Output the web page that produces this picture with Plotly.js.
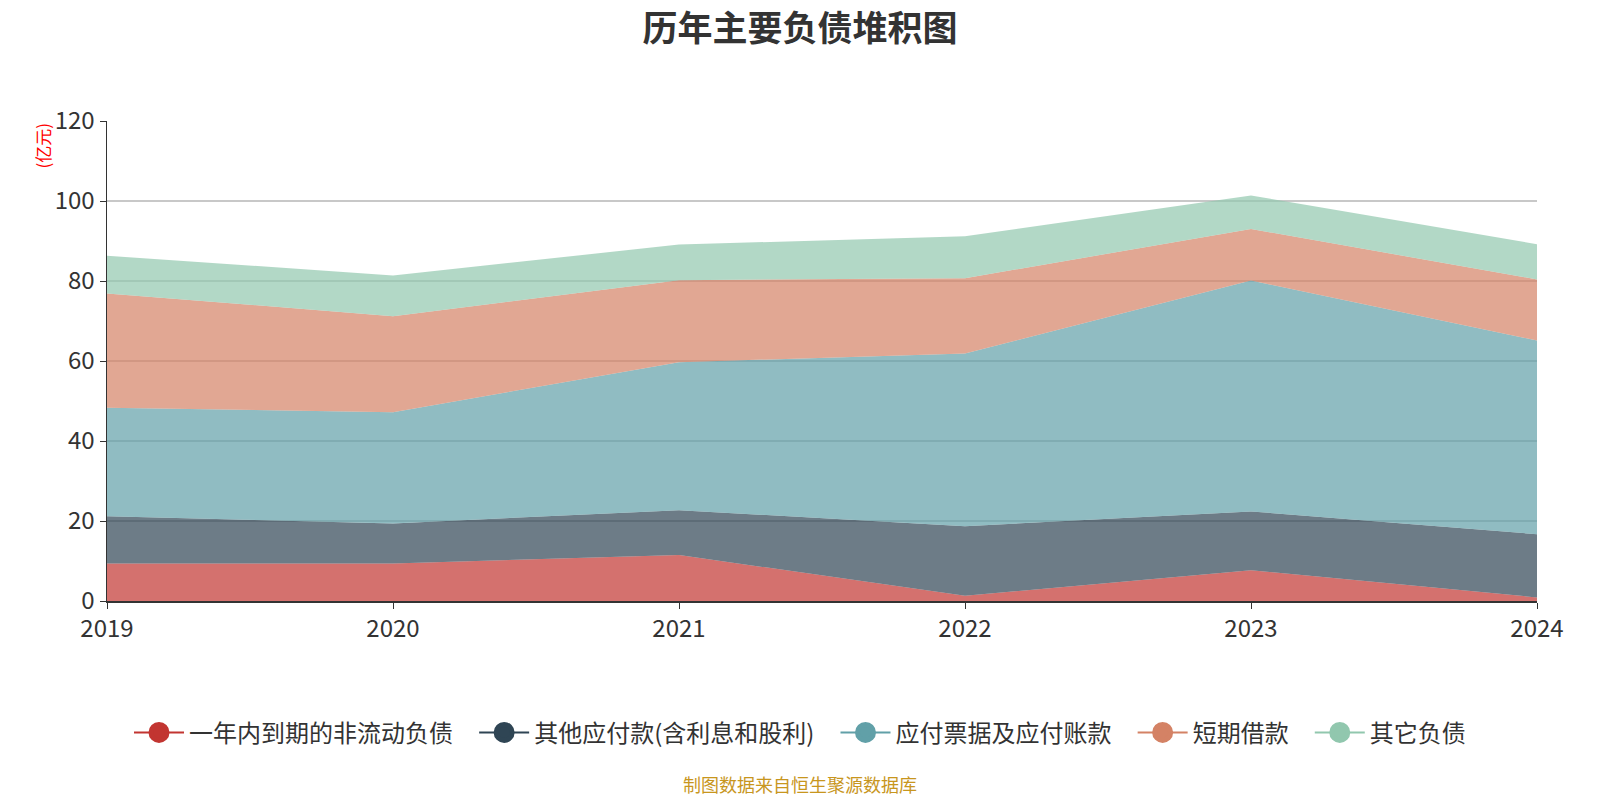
<!DOCTYPE html>
<html><head><meta charset="utf-8">
<script src="https://cdn.plot.ly/plotly-3.0.1.min.js"></script>
<style>html,body{margin:0;padding:0;background:#fff}#c{width:1600px;height:800px}</style>
</head><body><div id="c"></div>
<script>
const years = ['2019','2020','2021','2022','2023','2024'];
const names = ['一年内到期的非流动负债','其他应付款(含利息和股利)','应付票据及应付账款','短期借款','其它负债'];
const s1 = [9.4, 9.4, 11.5, 1.3, 7.7, 0.9];
const s2 = [11.8, 10.0, 11.2, 17.4, 14.7, 15.8];
const s3 = [27.1, 27.8, 37.0, 43.2, 57.7, 48.4];
const s4 = [28.6, 24.0, 20.5, 18.8, 12.9, 15.3];
const s5 = [9.4, 10.2, 8.9, 10.5, 8.4, 8.8];
const yTicks = [0, 20, 40, 60, 80, 100, 120];
const colors = [[194,53,49],[47,69,84],[97,160,168],[212,130,101],[145,199,174]];
const series = [s1, s2, s3, s4, s5];
const font = '"Noto Sans CJK SC", "Noto Sans", sans-serif';

const traces = [];
series.forEach((s, i) => {
  const c = colors[i];
  traces.push({
    x: years, y: s, type: 'scatter', mode: 'lines', stackgroup: 'one',
    name: names[i], showlegend: false,
    line: {width: 0, color: `rgb(${c.join(',')})`},
    fillcolor: `rgba(${c.join(',')},0.7)`,
    hoverinfo: 'x+y+name'
  });
});
series.forEach((s, i) => {
  const c = colors[i];
  const col = `rgb(${c.join(',')})`;
  traces.push({
    x: [null], y: [null], type: 'scatter', mode: 'lines+markers',
    name: names[i] + (i < series.length - 1 ? '\u00a0\u00a0\u00a0' : ''), showlegend: true,
    line: {width: 2, color: col},
    marker: {size: 16, color: col, line: {width: 5, color: col}}
  });
});

const layout = {
  width: 1600, height: 800,
  margin: {l: 107, r: 63, t: 121, b: 199, autoexpand: false},
  paper_bgcolor: '#fff', plot_bgcolor: '#fff',
  font: {family: font, color: '#333', size: 20},
  title: {text: '<b>历年主要负债堆积图</b>', x: 0.5, xref: 'container', xanchor: 'center',
          y: 0.964, yref: 'container', yanchor: 'middle',
          font: {size: 35, color: '#333', family: font}},
  xaxis: {type: 'category', range: [0, 5], showgrid: false, zeroline: false, automargin: false,
          showline: true, linecolor: '#333', linewidth: 1.5,
          ticks: 'outside', ticklen: 6, tickcolor: '#333',
          tickfont: {size: 24, color: '#333'}, fixedrange: true},
  yaxis: {range: [0, 120], tickvals: yTicks, ticktext: yTicks.map(String), automargin: false,
          showgrid: true, gridcolor: '#c8c8c8', gridwidth: 1.5, zeroline: false,
          showline: true, linecolor: '#333', linewidth: 1.5,
          ticks: 'outside', ticklen: 6, tickcolor: '#333',
          tickfont: {size: 24, color: '#333'}, fixedrange: true},
  legend: {orientation: 'h', x: 0.5, xref: 'container', xanchor: 'center',
           y: 0.084, yref: 'container', yanchor: 'middle', traceorder: 'normal',
           font: {size: 24, color: '#333'}, itemwidth: 50, tracegroupgap: 0},
  annotations: [
    {text: '(亿元)', xref: 'paper', yref: 'paper', x: -0.045, y: 0.948, xanchor: 'center', yanchor: 'middle',
     textangle: -90, showarrow: false, font: {size: 17, color: '#ff0000', family: font}},
    {text: '制图数据来自恒生聚源数据库', xref: 'paper', yref: 'paper', x: 0.4846, y: -0.381,
     xanchor: 'center', yanchor: 'middle', showarrow: false,
     font: {size: 18, color: '#c8961e', family: font}}
  ],
  showlegend: true
};
Plotly.newPlot('c', traces, layout, {displayModeBar: false, staticPlot: true});
</script></body></html>
